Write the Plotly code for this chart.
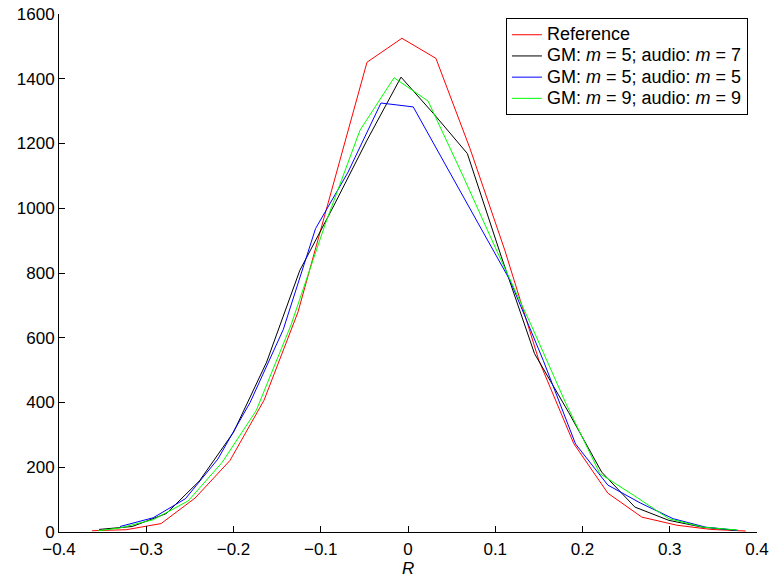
import plotly.graph_objects as go

# ---- data ----
ref_x = [-0.362, -0.323, -0.283, -0.244, -0.204, -0.165, -0.126, -0.086, -0.047, -0.007,
         0.032, 0.071, 0.111, 0.150, 0.190, 0.229, 0.268, 0.308, 0.347, 0.387]
ref_y = [4, 7, 26, 105, 221, 407, 680, 1071, 1451, 1525,
         1463, 1185, 870, 530, 273, 120, 46, 21, 8, 3]

gm5a7_x = [-0.354, -0.316, -0.277, -0.239, -0.200, -0.162, -0.124, -0.085, -0.047, -0.008,
           0.030, 0.068, 0.107, 0.145, 0.184, 0.222, 0.260, 0.299, 0.337, 0.376]
gm5a7_y = [8, 17, 57, 158, 308, 525, 808, 1008, 1210, 1405,
           1290, 1169, 850, 551, 370, 185, 77, 36, 15, 5]

gm5a5_x = [-0.330, -0.292, -0.255, -0.218, -0.181, -0.143, -0.106, -0.069, -0.031, 0.006,
           0.043, 0.080, 0.117, 0.155, 0.192, 0.229, 0.266, 0.304, 0.341, 0.378]
gm5a5_y = [17, 44, 103, 225, 400, 625, 937, 1110, 1325, 1313,
           1134, 956, 777, 530, 272, 145, 90, 41, 15, 5]

gm9a9_x = [-0.355, -0.331, -0.292, -0.252, -0.213, -0.174, -0.134, -0.095, -0.055, -0.016,
           0.023, 0.063, 0.102, 0.142, 0.181, 0.220, 0.260, 0.299, 0.338, 0.378]
gm9a9_y = [4, 12, 38, 96, 215, 375, 640, 950, 1241, 1403,
           1331, 1100, 867, 634, 397, 180, 111, 41, 15, 6]

series_names = ["Reference",
                "GM: <i>m</i> = 5; audio: <i>m</i> = 7",
                "GM: <i>m</i> = 5; audio: <i>m</i> = 5",
                "GM: <i>m</i> = 9; audio: <i>m</i> = 9"]
series_colors = ["#ff0000", "#000000", "#0000ff", "#00ff00"]

x_title = "<i>R</i>"
x_ticks = [-0.4, -0.3, -0.2, -0.1, 0, 0.1, 0.2, 0.3, 0.4]
x_tick_labels = ["\u22120.4", "\u22120.3", "\u22120.2", "\u22120.1", "0", "0.1", "0.2", "0.3", "0.4"]
y_ticks = [0, 200, 400, 600, 800, 1000, 1200, 1400, 1600]

fig = go.Figure()
for xs, ys, name, col in zip([ref_x, gm5a7_x, gm5a5_x, gm9a9_x],
                             [ref_y, gm5a7_y, gm5a5_y, gm9a9_y],
                             series_names, series_colors):
    fig.add_trace(go.Scatter(x=xs, y=ys, mode="lines",
                             name='<span style="font-size:18px">' + name + '</span>',
                             line=dict(color=col, width=1)))

font = "Liberation Sans, Arial, Helvetica, sans-serif"
fig.update_layout(
    width=770, height=580,
    margin=dict(l=59, r=13, t=14, b=48),
    paper_bgcolor="white", plot_bgcolor="white",
    font=dict(family=font, size=17, color="black"),
    showlegend=True,
    legend=dict(x=0.987, y=0.992, xanchor="right", yanchor="top",
                bgcolor="white", bordercolor="black", borderwidth=1,
                font=dict(size=14), tracegroupgap=0, itemwidth=30),
    xaxis=dict(range=[-0.4, 0.4], tickvals=x_ticks, ticktext=x_tick_labels,
               ticks="inside", ticklen=6, tickcolor="black",
               showline=True, linecolor="black", linewidth=1,
               showgrid=False, zeroline=False, automargin=False,
               ticklabelstandoff=2),
    yaxis=dict(range=[0, 1600], tickvals=y_ticks,
               ticks="inside", ticklen=6, tickcolor="black",
               showline=True, linecolor="black", linewidth=1,
               showgrid=False, zeroline=False, automargin=False),
    annotations=[dict(text=x_title, xref="paper", yref="paper", x=0.5, y=0,
                      xanchor="center", yanchor="top", yshift=-25,
                      showarrow=False, font=dict(size=17))],
)

fig.write_html("out.html")
